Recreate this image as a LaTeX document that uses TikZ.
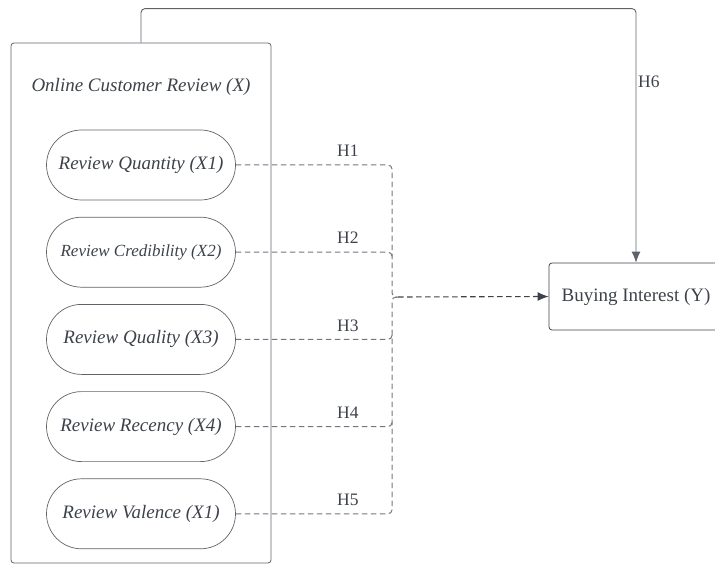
\documentclass[tikz,border=0pt]{standalone}
\usepackage{fontspec}
\setmainfont{Liberation Serif}
\usepackage{tikz}
\usetikzlibrary{positioning,shapes.misc,arrows.meta,calc}
\definecolor{inkc}{HTML}{3D424A}
\definecolor{linec}{HTML}{72777F}
\definecolor{framec}{HTML}{5E636B}

\begin{document}
\begin{tikzpicture}[x=1pt, y=-1pt, node distance=16.5pt, >={Latex[length=11pt,width=9pt]}, every node/.style={font=\fontsize{19}{22}\selectfont, text=inkc}]
\tikzstyle{pill}=[rounded rectangle, draw=framec, line width=0.7pt, minimum width=197pt, minimum height=70pt, inner xsep=4pt, font=\fontsize{19}{22}\selectfont\itshape]
\tikzstyle{hyp}=[draw=linec, dashed, dash pattern=on 5.5pt off 3.5pt, line width=1pt, rounded corners=4pt]
\tikzstyle{lbl}=[inner sep=1pt, font=\fontsize{17.5}{20}\selectfont]
\clip (0,0) rectangle (715,564);
\node[draw=framec, line width=0.8pt, rounded corners=3pt, minimum width=260pt, minimum height=520pt] (ocr) at (141,303) {};
\node[font=\fontsize{19}{22}\selectfont\itshape] (ttl) at (141,87) {Online Customer Review (X)};
\node[pill] (q1) at (141,165) {Review Quantity (X1)};
\node[pill, below=of q1, font=\fontsize{17}{20}\selectfont\itshape] (q2) {Review Credibility (X2)};
\node[pill, below=of q2] (q3) {Review Quality (X3)};
\node[pill, below=of q3] (q4) {Review Recency (X4)};
\node[pill, below=of q4] (q5) {Review Valence (X1)};
\node[draw=inkc, line width=0.8pt, rounded corners=3pt, minimum width=174pt, minimum height=67pt] (bi) at (636,296.5) {};
\node (bitxt) at (bi.center) {Buying Interest (Y)};
\coordinate (sp) at (392,297);
\coordinate (jn) at (398,297);
% paths from the pills to the spine
\draw[hyp] (q1.east) -| (sp) -- (jn);
\draw[hyp] (q5.east) -| (sp) -- (jn);
\draw[hyp] (q2.east) -| ($(q2.east -| sp)+(0,8)$);
\draw[hyp] (q3.east) -| ($(q3.east -| sp)+(0,-8)$);
\draw[hyp] (q4.east) -| ($(q4.east -| sp)+(0,-8)$);
\draw[->, draw=inkc, dashed, dash pattern=on 5.5pt off 3.5pt, line width=1.1pt] (jn) -- (bi.west);
\draw[->, draw=framec, line width=0.9pt, rounded corners=4pt] (ocr.north) -- ++(0,-34) -| (bi.north);
\node[lbl] (h1) at ([xshift=112pt,yshift=14pt]q1.east) {H1};
\node[lbl] (h2) at ([xshift=112pt,yshift=14pt]q2.east) {H2};
\node[lbl] (h3) at ([xshift=112pt,yshift=14pt]q3.east) {H3};
\node[lbl] (h4) at ([xshift=112pt,yshift=14pt]q4.east) {H4};
\node[lbl] (h5) at ([xshift=112pt,yshift=14pt]q5.east) {H5};
\node[lbl, anchor=west] (h6) at (637,82) {H6};
\end{tikzpicture}
\end{document}
